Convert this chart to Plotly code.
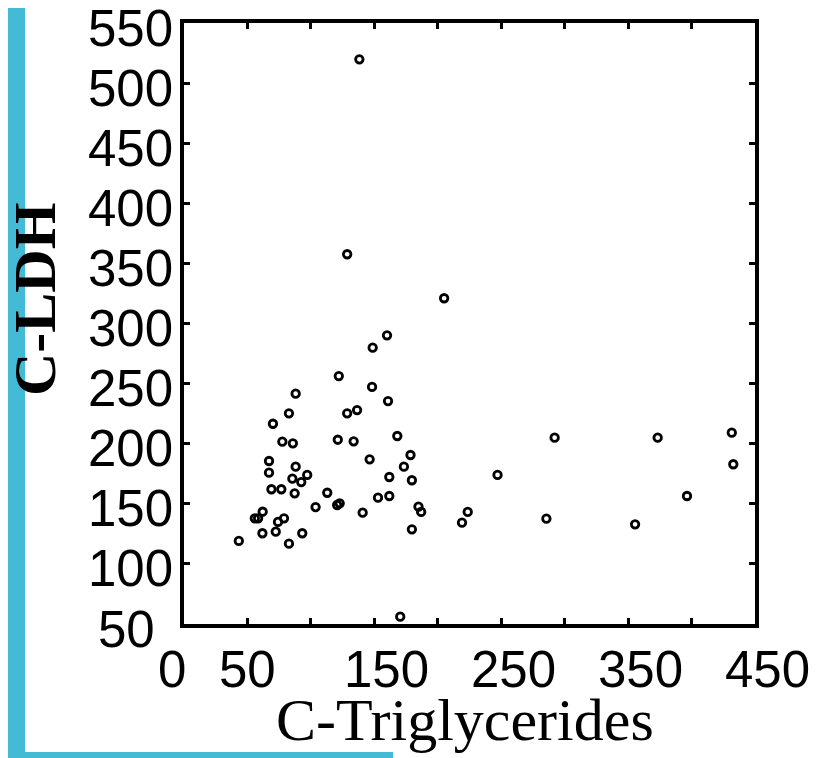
import plotly.graph_objects as go

# ---- data ----
triglycerides = [43.2, 55.8, 58.4, 62.0, 61.8, 67.0, 67.0, 70.1, 68.9, 72.3,
                 74.1, 76.7, 78.8, 77.5, 82.7, 82.7, 85.8, 85.4, 88.0, 88.0,
                 87.2, 92.4, 93.2, 97.1, 103.7, 112.9, 121.2, 120.7, 122.0, 122.7,
                 128.6, 128.6, 133.7, 136.4, 138.2, 140.8, 146.3, 148.7, 148.2, 152.9,
                 160.0, 160.8, 161.8, 161.8, 168.1, 170.4, 173.3, 178.5, 179.6, 179.6,
                 184.8, 186.9, 205.0, 219.1, 223.6, 247.1, 285.6, 292.1, 355.5, 373.3,
                 396.4, 431.7, 432.9]
ldh = [119.1, 137.9, 137.9, 143.4, 125.5, 185.6, 175.9, 216.6, 162.1, 126.8,
       134.9, 162.1, 137.9, 201.7, 225.3, 116.8, 200.3, 170.9, 241.6, 180.9,
       158.7, 168.1, 125.5, 174.0, 147.3, 159.2, 203.3, 149.0, 256.3, 150.4,
       357.6, 225.3, 202.0, 228.0, 519.8, 142.6, 187.0, 279.9, 247.2, 155.1,
       290.2, 235.5, 172.3, 156.5, 206.4, 56.1, 180.9, 190.6, 169.6, 128.8,
       147.6, 143.2, 321.0, 134.3, 143.2, 174.0, 137.6, 205.0, 132.9, 205.0,
       156.5, 209.2, 182.9]

x_tick_values = [0, 50, 150, 250, 350, 450]
x_tick_labels = ["0", "50", "150", "250", "350", "450"]
y_tick_values = [50, 100, 150, 200, 250, 300, 350, 400, 450, 500, 550]
y_tick_labels = ["50", "100", "150", "200", "250", "300", "350", "400", "450", "500", "550"]

x_title = "C-Triglycerides"
y_title = "C-LDH"

# ---- layout constants ----
OFF = 8  # the page body margin that shifts the figure
W, H = 820 - OFF, 758 - OFF
L, R, T, B = 184 - OFF, 65, 23 - OFF, 134
PW, PH = W - L - R, H - T - B
CYAN = "#43BBD4"
SANS = "Liberation Sans, Arial, sans-serif"
SERIF = "Liberation Serif, Times New Roman, serif"


def px_x(p):
    """page pixel x -> paper coordinate"""
    return (p - OFF - L) / PW


def px_y(p):
    """page pixel y -> paper coordinate"""
    return (H - B - (p - OFF)) / PH


fig = go.Figure()
fig.add_trace(go.Scatter(
    x=triglycerides, y=ldh, mode="markers",
    marker=dict(symbol="circle-open", size=7.5, color="black",
                line=dict(color="black", width=2.8)),
    hoverinfo="x+y", showlegend=False,
))

axis_common = dict(
    showgrid=False, zeroline=False, showline=True, linecolor="black",
    linewidth=4, mirror="ticks", ticks="inside", ticklen=6, tickwidth=2.5,
    tickcolor="black", showticklabels=False, dtick=50,
)
fig.update_xaxes(range=[0, 450], tick0=0, **axis_common)
fig.update_yaxes(range=[50, 550], tick0=50, **axis_common)

annotations = []
for v, t in zip(x_tick_values, x_tick_labels):
    annotations.append(dict(
        x=v, xref="x", y=0, yref="paper", text=t, showarrow=False,
        xanchor="center", yanchor="middle", xshift=(len(t) - 2) * 12,
        yshift=-45, font=dict(family=SANS, size=51, color="black"),
    ))
for v, t in zip(y_tick_values, y_tick_labels):
    annotations.append(dict(
        x=0, xref="paper", y=v, yref="y", text=t, showarrow=False,
        xanchor="right", yanchor="middle",
        xshift=-9 if len(t) == 3 else -27, yshift=-5,
        font=dict(family=SANS, size=51, color="black"),
    ))
annotations.append(dict(
    x=px_x(464.5), xref="paper", y=px_y(720), yref="paper", text=x_title,
    showarrow=False, xanchor="center", yanchor="middle",
    font=dict(family=SERIF, size=60, color="black"),
))
annotations.append(dict(
    x=px_x(35), xref="paper", y=px_y(300), yref="paper",
    text="<b>" + y_title + "</b>", showarrow=False, textangle=-90,
    xanchor="center", yanchor="middle",
    font=dict(family=SERIF, size=60, color="black"),
))

shapes = [
    dict(type="rect", xref="paper", yref="paper", x0=px_x(0), x1=px_x(25),
         y0=px_y(758), y1=px_y(0), fillcolor=CYAN, line=dict(width=0), layer="below"),
    dict(type="rect", xref="paper", yref="paper", x0=px_x(0), x1=px_x(393),
         y0=px_y(7), y1=px_y(0), fillcolor=CYAN, line=dict(width=0), layer="below"),
    dict(type="rect", xref="paper", yref="paper", x0=px_x(0), x1=px_x(393),
         y0=px_y(758), y1=px_y(752), fillcolor=CYAN, line=dict(width=0), layer="below"),
]

fig.update_layout(
    width=W, height=H, autosize=False,
    margin=dict(l=L, r=R, t=T, b=B, pad=0),
    paper_bgcolor="white", plot_bgcolor="white",
    annotations=annotations, shapes=shapes,
)

fig.write_html("out.html")
